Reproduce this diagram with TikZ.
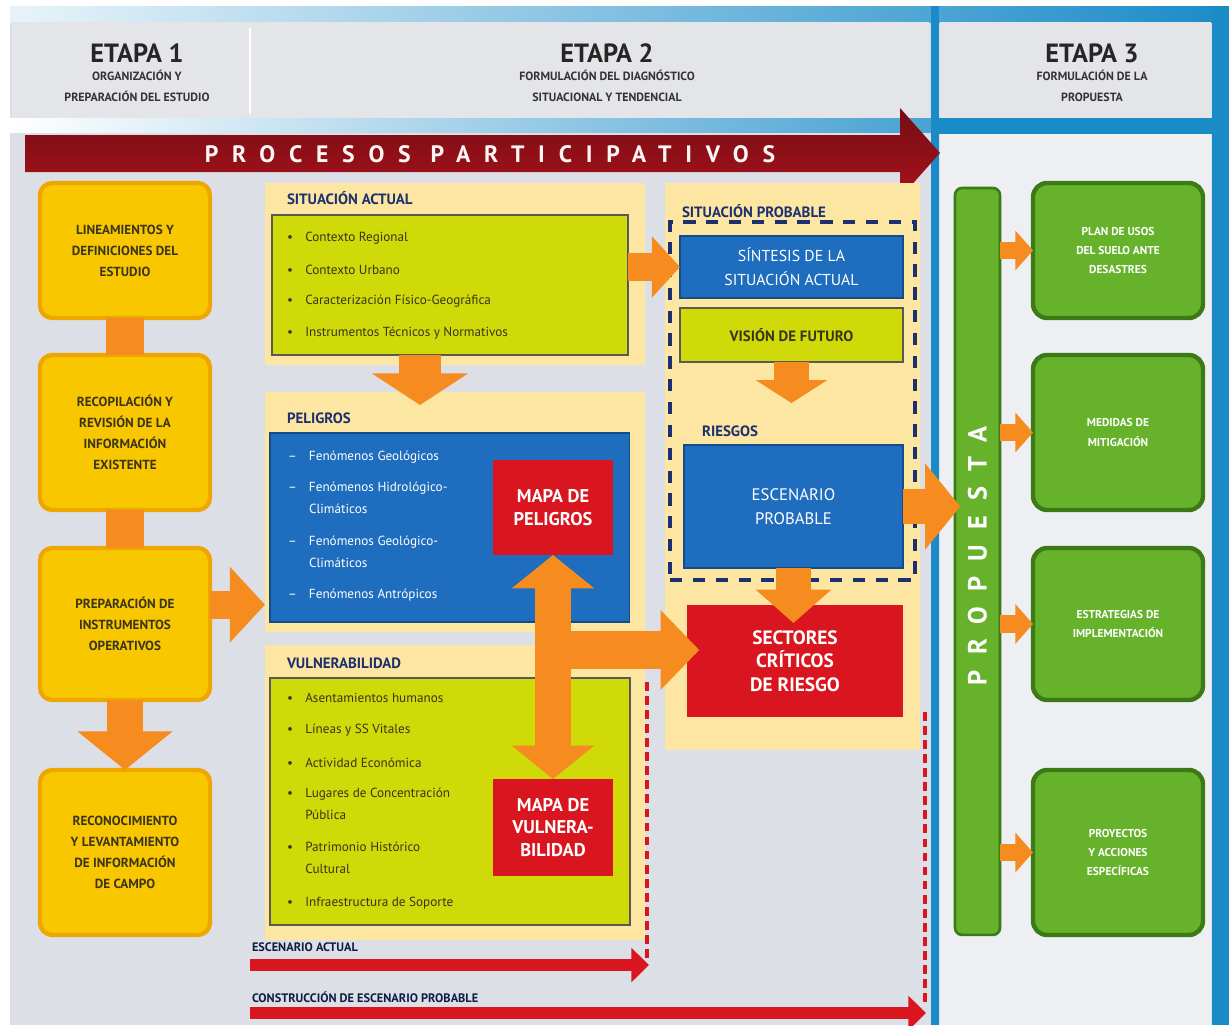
\documentclass[tikz,border=0pt]{standalone}
\usepackage{fontspec}
\setmainfont{PT Sans}
\usetikzlibrary{arrows.meta}

\definecolor{fondo}{HTML}{DCE0E6}
\definecolor{cabecera}{HTML}{E4E5E9}
\definecolor{celeste}{HTML}{1B8BC8}
\definecolor{granate}{HTML}{A8121C}
\definecolor{rojo}{HTML}{D9161F}
\definecolor{naranja}{HTML}{F68B1F}
\definecolor{amarillo}{HTML}{F9C700}
\definecolor{ambar}{HTML}{EEA600}
\definecolor{crema}{HTML}{FCE6A2}
\definecolor{lima}{HTML}{CFDA08}
\definecolor{azul}{HTML}{1F6DBE}
\definecolor{verde}{HTML}{67B22B}
\definecolor{verdeosc}{HTML}{3B7A17}
\definecolor{marino}{HTML}{1C2F6E}
\definecolor{tinta}{HTML}{3A3418}

\begin{document}
\begin{tikzpicture}[x=0.02cm, y=-0.02cm,
    every node/.style={inner sep=0pt, outer sep=0pt},
    caja/.style={rectangle, anchor=north west, align=center},
    paso/.style={caja, rounded corners=7pt, fill=amarillo, draw=ambar,
        line width=2.5pt, minimum width=3.4cm, text=tinta,
        font=\bfseries\fontsize{7.5}{12}\selectfont},
    accion/.style={caja, rounded corners=8pt, fill=verde, draw=verdeosc,
        line width=2.5pt, minimum width=3.4cm, text=white,
        font=\bfseries\fontsize{6.5}{11}\selectfont},
    panel/.style={caja, fill=crema},
    titulo/.style={anchor=west, text=marino, font=\bfseries\fontsize{8.5}{10}\selectfont},
    lista/.style={caja, fill=lima, draw=gray!70!black, line width=0.8pt},
    celda/.style={caja, fill=azul, draw=azul!70!black, line width=0.6pt, text=white,
        font=\fontsize{9}{13.5}\selectfont},
    mapa/.style={caja, fill=rojo, text=white, font=\bfseries\fontsize{10.5}{13}\selectfont},
    vineta/.style={anchor=west, align=left, text=tinta, font=\fontsize{7.5}{12.5}\selectfont},
    vinetab/.style={vineta, text=white},
    etapa/.style={text=black!85, font=\bfseries\fontsize{15}{15}\selectfont},
    subetapa/.style={align=center, text=black!80, font=\bfseries\fontsize{6.8}{12}\selectfont},
    barra/.style={draw=naranja, line width=22pt},
    flechaG/.style={draw=naranja, line width=20pt, -{Triangle[width=48pt,length=20pt]}},
    flechaM/.style={draw=naranja, line width=16pt, -{Triangle[width=34pt,length=16pt]}},
    flechaP/.style={draw=naranja, line width=10pt, -{Triangle[width=22pt,length=10pt]}},
    doble/.style={draw=naranja, line width=20pt,
        {Triangle[width=46pt,length=19pt]}-{Triangle[width=46pt,length=19pt]}},
    escena/.style={draw=rojo, line width=7pt, -{Triangle[width=19pt,length=10pt]}},
    rotulo/.style={anchor=west, text=marino!60!black, font=\bfseries\fontsize{7}{8}\selectfont},
    limite/.style={draw=rojo, line width=2pt, dash pattern=on 5pt off 3pt}
]
\useasboundingbox (0,0) rectangle (1229,1025);
\fill[white] (0,0) rectangle (1229,1025);
\fill[fondo] (10,8) rectangle (1229,1025);
\shade[left color=celeste!10, right color=celeste] (10,6) rectangle (1229,22);
\fill[cabecera] (12,22) rectangle (929,118);
\draw[white, line width=1.5pt] (250,28) -- (250,114);
\shade[left color=white, right color=celeste!80] (10,118) rectangle (931,132);
\fill[cabecera] (940,22) rectangle (1211,118);
\fill[celeste] (931,118) rectangle (1229,134);
\fill[fondo!50!white] (940,134) rectangle (1211,1025);
\fill[celeste] (931,6) rectangle (939,1025);
\fill[celeste] (1212,6) rectangle (1229,1025);

\node[etapa] (e1) at (137,53) {ETAPA 1};
\node[subetapa] (s1) at (137,86) {ORGANIZACIÓN Y\\PREPARACIÓN DEL ESTUDIO};
\node[etapa] (e2) at (607,53) {ETAPA 2};
\node[subetapa] (s2) at (607,86) {FORMULACIÓN DEL DIAGNÓSTICO\\SITUACIONAL Y TENDENCIAL};
\node[etapa] (e3) at (1092,53) {ETAPA 3};
\node[subetapa] (s3) at (1092,86) {FORMULACIÓN DE LA\\PROPUESTA};

\shade[top color=granate!70!black, middle color=rojo!90!black, bottom color=granate]
    (25,135) -- (900,135) -- (900,108) -- (940,153) -- (900,198)
    -- (900,172) -- (25,172) -- cycle;
\node[text=white!85!pink,
    font=\bfseries\fontsize{13.5}{13.5}\selectfont\addfontfeature{LetterSpace=58}]
    (proc) at (490,154) {PROCESOS PARTICIPATIVOS};

\node[paso, minimum height=2.7cm]  (lin)  at (40,183) {LINEAMIENTOS Y\\DEFINICIONES DEL\\ESTUDIO};
\node[paso, minimum height=3.1cm]  (rec)  at (40,355) {RECOPILACIÓN Y\\REVISIÓN DE LA\\INFORMACIÓN\\EXISTENTE};
\node[paso, minimum height=3.04cm] (prep) at (40,548) {PREPARACIÓN DE\\INSTRUMENTOS\\OPERATIVOS};
\node[paso, minimum height=3.3cm]  (camp) at (40,770) {RECONOCIMIENTO\\Y LEVANTAMIENTO\\DE INFORMACIÓN\\DE CAMPO};

\node[panel, minimum width=7.6cm, minimum height=3.64cm] (pSA)   at (265,183) {};
\node[panel, minimum width=7.6cm, minimum height=4.8cm]  (pPel)  at (265,392) {};
\node[panel, minimum width=7.6cm, minimum height=5.9cm]  (pVul)  at (265,645) {};
\node[panel, minimum width=5.1cm, minimum height=11.34cm] (pProb) at (665,183) {};

\node[titulo] (tSA)   at (287,198) {SITUACIÓN ACTUAL};
\node[titulo] (tPel)  at (287,418) {PELIGROS};
\node[titulo] (tVul)  at (287,663) {VULNERABILIDAD};
\node[titulo] (tProb) at (682,211) {SITUACIÓN PROBABLE};
\node[titulo] (tRsg)  at (702,431) {RIESGOS};

\node[lista, minimum width=7.12cm, minimum height=2.8cm] (saBox) at (272,215) {};
\node[vineta] (sa1) at (287,238) {\textbullet\hspace{7pt}Contexto Regional};
\node[vineta] (sa2) at (287,270) {\textbullet\hspace{7pt}Contexto Urbano};
\node[vineta] (sa3) at (287,301) {\textbullet\hspace{7pt}Caracterización Físico-Geográfica};
\node[vineta] (sa4) at (287,333) {\textbullet\hspace{7pt}Instrumentos Técnicos y Normativos};

\node[celda, minimum width=7.2cm, minimum height=3.78cm] (pelBox) at (270,433) {};
\node[vinetab] (pe1) at (288,457) {--\hspace{7pt}Fenómenos Geológicos};
\node[vinetab] (pe2) at (288,498) {--\hspace{7pt}Fenómenos Hidrológico-\\\hphantom{--\hspace{7pt}}Climáticos};
\node[vinetab] (pe3) at (288,552) {--\hspace{7pt}Fenómenos Geológico-\\\hphantom{--\hspace{7pt}}Climáticos};
\node[vinetab] (pe4) at (288,595) {--\hspace{7pt}Fenómenos Antrópicos};

\node[lista, minimum width=7.2cm, minimum height=4.94cm] (vulBox) at (270,678) {};
\node[vineta] (vu1) at (287,698) {\textbullet\hspace{7pt}Asentamientos humanos};
\node[vineta] (vu2) at (287,730) {\textbullet\hspace{7pt}Líneas y SS Vitales};
\node[vineta] (vu3) at (287,763) {\textbullet\hspace{7pt}Actividad Económica};
\node[vineta] (vu4) at (287,804) {\textbullet\hspace{7pt}Lugares de Concentración\\\hphantom{\textbullet\hspace{7pt}}Pública};
\node[vineta] (vu5) at (287,858) {\textbullet\hspace{7pt}Patrimonio Histórico\\\hphantom{\textbullet\hspace{7pt}}Cultural};
\node[vineta] (vu6) at (287,903) {\textbullet\hspace{7pt}Infraestructura de Soporte};

\node[caja, draw=marino, line width=2.5pt, dash pattern=on 7pt off 6pt,
    minimum width=4.9cm, minimum height=7.16cm] (prob) at (670,222) {};
\node[celda, minimum width=4.46cm, minimum height=1.24cm] (sint) at (680,236) {SÍNTESIS DE LA\\SITUACIÓN ACTUAL};
\node[lista, minimum width=4.46cm, minimum height=1.08cm, text=tinta,
    font=\bfseries\fontsize{8.5}{10}\selectfont] (vis) at (680,308) {VISIÓN DE FUTURO};
\node[celda, minimum width=4.38cm, minimum height=2.46cm,
    font=\fontsize{9.5}{14}\selectfont] (esc) at (684,445) {ESCENARIO\\PROBABLE};
\node[mapa, minimum width=4.32cm, minimum height=2.24cm,
    font=\bfseries\fontsize{11}{13.5}\selectfont] (sect) at (687,605) {SECTORES\\CRÍTICOS\\DE RIESGO};

\node[caja, fill=verde, draw=verdeosc, line width=1.5pt, rounded corners=4pt,
    minimum width=0.9cm, minimum height=14.94cm] (prop) at (955,188) {};
\node[rotate=90, text=white,
    font=\bfseries\fontsize{15}{15}\selectfont\addfontfeature{LetterSpace=58}]
    (propT) at (977.5,556) {PROPUESTA};

\node[accion, minimum height=2.7cm]  (g1) at (1033,183) {PLAN DE USOS\\DEL SUELO ANTE\\DESASTRES};
\node[accion, minimum height=3.1cm]  (g2) at (1033,355) {MEDIDAS DE\\MITIGACIÓN};
\node[accion, minimum height=3.04cm] (g3) at (1033,548) {ESTRATEGIAS DE\\IMPLEMENTACIÓN};
\node[accion, minimum height=3.3cm]  (g4) at (1033,770) {PROYECTOS\\Y ACCIONES\\ESPECÍFICAS};

\draw[barra] (lin.south) -- (rec.north);
\draw[barra] (rec.south) -- (prep.north);
\draw[flechaG, -{Triangle[width=53pt,length=22pt]}] (prep.south) -- (camp.north);
\draw[flechaM, -{Triangle[width=42pt,length=20pt]}] ([yshift=11pt]prep.east) -- ([yshift=11pt]prep.east -| pPel.west);
\draw[flechaG, line width=24pt, -{Triangle[width=54pt,length=18pt]}] (saBox.south -| 420,0) -- (420,405);
\draw[flechaM] (saBox.east |- sint.west) -- (sint.west);
\draw[flechaG, -{Triangle[width=40pt,length=13pt]}] (vis.south) -- (vis.south |- 0,403);
\draw[flechaG, -{Triangle[width=42pt,length=19pt]}] (esc.south) -- (esc.south |- 0,623);
\draw[flechaG] (esc.east) -- ([xshift=3pt]esc.east -| prop.west);
\coordinate (cruce) at (553,650);
\draw[flechaG, line width=22pt, -{Triangle[width=44pt,length=22pt]}] (cruce) -- ([xshift=7pt]sect.west |- cruce);

\node[mapa, minimum width=2.4cm, minimum height=1.9cm]  (mpel) at (493,460) {MAPA DE\\PELIGROS};
\node[mapa, minimum width=2.4cm, minimum height=1.94cm] (mvul) at (493,779) {MAPA DE\\VULNERA-\\BILIDAD};
\draw[doble] (mpel.south) -- (mvul.north);

\draw[flechaP] (prop.east |- g1.west) -- (g1.west);
\draw[flechaP] (prop.east |- g2.west) -- (g2.west);
\draw[flechaP] (prop.east |- g3.west) -- (g3.west);
\draw[flechaP] (prop.east |- g4.west) -- (g4.west);

\draw[limite] (647,682) -- (647,958);
\draw[limite] (925,712) -- (925,1003);

\node[rotulo] (tEA) at (252,947) {ESCENARIO ACTUAL};
\coordinate (ea0) at (250,965);
\coordinate (ea1) at (649,965);
\draw[escena] (ea0) -- (ea1);
\node[rotulo] (tEP) at (252,997) {CONSTRUCCIÓN DE ESCENARIO PROBABLE};
\coordinate (ep0) at (250,1013);
\coordinate (ep1) at (926,1013);
\draw[escena] (ep0) -- (ep1);
\end{tikzpicture}
\end{document}
